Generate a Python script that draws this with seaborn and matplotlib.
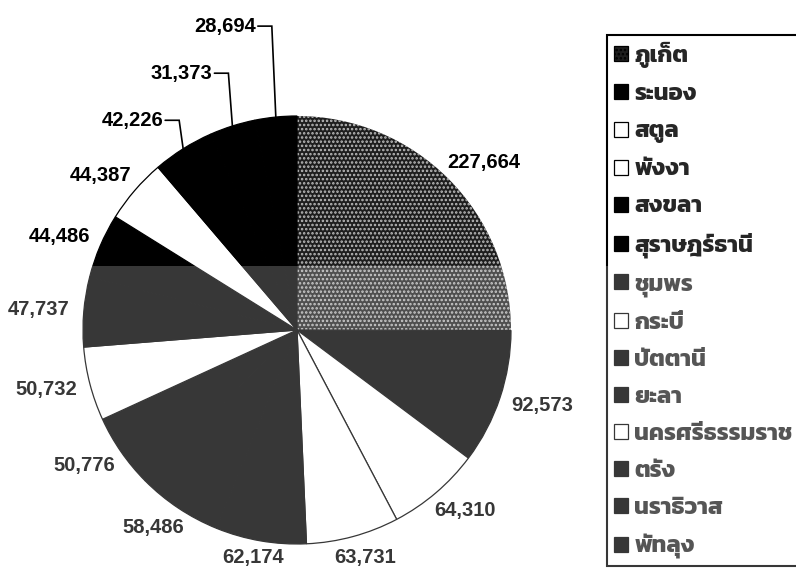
import matplotlib
matplotlib.use("Agg")
import numpy as np
import matplotlib.pyplot as plt
import seaborn as sns
from matplotlib import font_manager
from matplotlib.patches import Rectangle

# ---------------- data ----------------
provinces = ["ภูเก็ต", "ระนอง", "สตูล", "พังงา", "สงขลา", "สุราษฎร์ธานี", "ชุมพร",
             "กระบี่", "ปัตตานี", "ยะลา", "นครศรีธรรมราช", "ตรัง", "นราธิวาส", "พัทลุง"]
values = [227664, 92573, 64310, 63731, 62174, 58486, 50776,
          50732, 47737, 44486, 44387, 42226, 31373, 28694]

# ---------------- styles ----------------
slice_colors = ["#1e1e1e", "#000000", "#ffffff", "#ffffff", "#000000", "#000000", "#000000",
                "#ffffff", "#000000", "#000000", "#ffffff", "#000000", "#000000", "#000000"]
# labels of the thin top slices are lifted with leader lines (height in pie radii)
leader_heights = {11: 0.98, 12: 1.20, 13: 1.42}

sns.set_theme(style="white")
avail = {f.name for f in font_manager.fontManager.ttflist}
thai_family = next((n for n in ["Kanit", "Prompt", "Noto Sans Thai", "Bai Jamjuree",
                                "Chakra Petch", "Athiti"] if n in avail), "DejaVu Sans")
plt.rcParams["font.family"] = ["Liberation Sans", "DejaVu Sans"]
plt.rcParams["hatch.linewidth"] = 1.2

W, H, DPI = 796, 569, 100
CX, CY, R = 297, 330, 214  # pie centre / radius in pixels

fig = plt.figure(figsize=(W / DPI, H / DPI), dpi=DPI, facecolor="white")
ax = fig.add_axes([0, 0, 1, 1])

wedges, _ = ax.pie(values, colors=slice_colors, startangle=90, counterclock=False,
                   radius=1, wedgeprops=dict(edgecolor="black", linewidth=0.9))
# speckled first slice
wedges[0].set_hatch("....")
wedges[0].set_edgecolor("#bdbdbd")
wedges[0].set_linewidth(0)

ax.set_xlim(-CX / R, (W - CX) / R)
ax.set_ylim(-(H - CY) / R, CY / R)
ax.set_aspect("equal")
ax.axis("off")

num_font = dict(family=["Liberation Sans", "DejaVu Sans"], fontweight="bold", fontsize=14.5)
gap = 14 / R
fig.canvas.draw()
renderer = fig.canvas.get_renderer()
ymin_data = -(H - CY) / R
for i, (w, v) in enumerate(zip(wedges, values)):
    phi = np.deg2rad((w.theta1 + w.theta2) / 2)
    c, s = np.cos(phi), np.sin(phi)
    t = ax.text(0, 0, f"{v:,}", ha="center", va="center", color="black", **num_font)
    bb = t.get_window_extent(renderer)
    tw, th = bb.width / R, bb.height / R
    if i in leader_heights:
        ex, ey = c, s
        elbow_x = ex - 4 / R
        ly = leader_heights[i]
        t.set_ha("right")
        t.set_position((elbow_x - 16 / R, ly))
        ax.plot([elbow_x - 14 / R, elbow_x, ex], [ly, ly, ey], color="black",
                lw=1.2, solid_joinstyle="miter")
    else:
        px = (1 + gap) * c + tw / 2 * c
        py = (1 + gap) * s + th / 2 * s
        # keep the label inside the page
        py = max(py, ymin_data + th / 2 + 2 / R)
        t.set_position((px, py))

# ---------------- legend ----------------
LFS = 17
thai_prop = font_manager.FontProperties(family=[thai_family, "DejaVu Sans"], weight="bold", size=LFS)
fs_px = LFS * DPI / 72
target_pitch = 37.8


def make_legend(spacing, pad):
    leg = ax.legend(wedges, provinces, loc="upper left",
                    bbox_to_anchor=(607 / W, 1 - 35 / H), bbox_transform=fig.transFigure,
                    frameon=True, fancybox=False, framealpha=1, edgecolor="black",
                    borderaxespad=0, borderpad=pad, handlelength=0.6, handleheight=0.6,
                    handletextpad=0.25, labelspacing=spacing, prop=thai_prop)
    leg.get_frame().set_linewidth(1.5)
    for h in leg.legend_handles:
        h.set_edgecolor("black")
        h.set_linewidth(0.9)
    return leg


spacing, pad = 0.5, 0.3
leg = make_legend(spacing, pad)
fig.canvas.draw()
ys = [t.get_window_extent(renderer).y0 + t.get_window_extent(renderer).height / 2 for t in leg.get_texts()]
pitch = (ys[0] - ys[-1]) / (len(ys) - 1)
spacing = spacing + (target_pitch - pitch) / fs_px
leg.remove()
leg = make_legend(spacing, pad)

# scan tone: lower part of the page is printed lighter
fig.add_artist(Rectangle((0, 0), 1, 1 - 266 / H, transform=fig.transFigure,
                         facecolor="white", alpha=0.22, edgecolor="none", zorder=10))

fig.savefig("out.png", dpi=DPI, facecolor="white")
